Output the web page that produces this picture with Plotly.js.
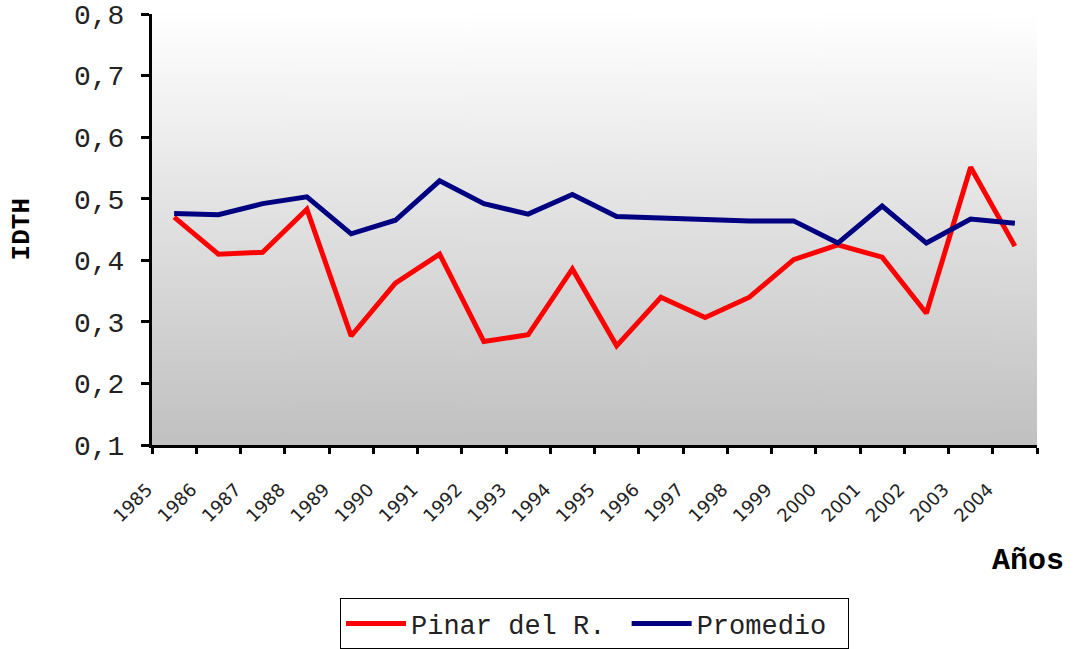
<!DOCTYPE html>
<html>
<head>
<meta charset="utf-8">
<script src="https://cdn.plot.ly/plotly-3.0.1.min.js"></script>
<style>html,body{margin:0;padding:0;background:#fff;}#chart{width:1074px;height:649px;}</style>
</head>
<body>
<div id="chart"></div>
<script>
var years = ["1985","1986","1987","1988","1989","1990","1991","1992","1993","1994","1995","1996","1997","1998","1999","2000","2001","2002","2003","2004"];
var pinar = [0.470,0.410,0.413,0.483,0.277,0.363,0.410,0.268,0.279,0.386,0.261,0.340,0.307,0.340,0.401,0.425,0.405,0.314,0.551,0.423];
var promedio = [0.476,0.474,0.492,0.503,0.443,0.465,0.529,0.492,0.475,0.507,0.471,0.468,0.466,0.464,0.464,0.428,0.488,0.428,0.467,0.460];
var seriesNames = ["Pinar del R.","Promedio"];
var yTicks = [0.1,0.2,0.3,0.4,0.5,0.6,0.7,0.8];

// gradient background image for plot area
var cv = document.createElement('canvas');
cv.width = 10; cv.height = 400;
var ctx = cv.getContext('2d');
var g = ctx.createLinearGradient(0,0,0,400);
g.addColorStop(0,'#ffffff');
g.addColorStop(1,'#c0c0c0');
ctx.fillStyle = g; ctx.fillRect(0,0,10,400);
var bg = cv.toDataURL('image/png');

var mono = '"Liberation Mono", "Courier New", monospace';
var pad = '\u00a0';

var traces = [
  {x: years, y: pinar, name: seriesNames[0] + pad, type:'scatter', mode:'lines', line:{color:'#ff0000', width:5}},
  {x: years, y: promedio, name: seriesNames[1] + pad, type:'scatter', mode:'lines', line:{color:'#000080', width:5}}
];

var layout = {
  width:1074, height:649,
  margin:{l:152, r:37, t:14, b:204, autoexpand:false},
  paper_bgcolor:'#ffffff',
  plot_bgcolor:'rgba(0,0,0,0)',
  separators:',.',
  showlegend:true,
  legend:{orientation:'h', x:0.5, xanchor:'center', y:-0.356, yanchor:'top',
    bordercolor:'#000000', borderwidth:1, bgcolor:'#ffffff', itemwidth:60,
    font:{family:mono, size:27, color:'#222'}},
  images:[{source:bg, xref:'paper', yref:'paper', x:0, y:1, sizex:1, sizey:1,
    sizing:'stretch', xanchor:'left', yanchor:'top', layer:'below'}],
  xaxis:{type:'category', range:[-0.5,19.5], autorange:false, automargin:false,
    tickson:'boundaries', ticks:'outside', ticklen:6, tickwidth:3, tickcolor:'#000',
    showline:true, linecolor:'#000', linewidth:3, showgrid:false, zeroline:false,
    tickangle:-45, tickfont:{family:'"DejaVu Sans", Verdana, sans-serif', size:18, color:'#222'},
    ticklabelshift:-27, ticklabelstandoff:24},
  yaxis:{range:[0.1,0.8], autorange:false, automargin:false, tickvals:yTicks, tickformat:'.1f',
    ticks:'outside', ticklen:8, tickwidth:3, tickcolor:'#000',
    showline:true, linecolor:'#000', linewidth:3, showgrid:false, zeroline:false,
    tickfont:{family:mono, size:28, color:'#222'}, ticklabelstandoff:11},
  annotations:[
    {text:'<b>Años</b>', xref:'paper', yref:'paper', x:1.033, y:-0.268, xanchor:'right', yanchor:'middle',
      showarrow:false, font:{family:mono, size:30, color:'#000'}},
    {text:'<b>IDTH</b>', xref:'paper', yref:'paper', x:-0.147, y:0.5, xanchor:'center', yanchor:'middle',
      textangle:-90, showarrow:false, font:{family:mono, size:26, color:'#000'}}
  ]
};

Plotly.newPlot('chart', traces, layout, {displayModeBar:false, staticPlot:true});
</script>
</body>
</html>
